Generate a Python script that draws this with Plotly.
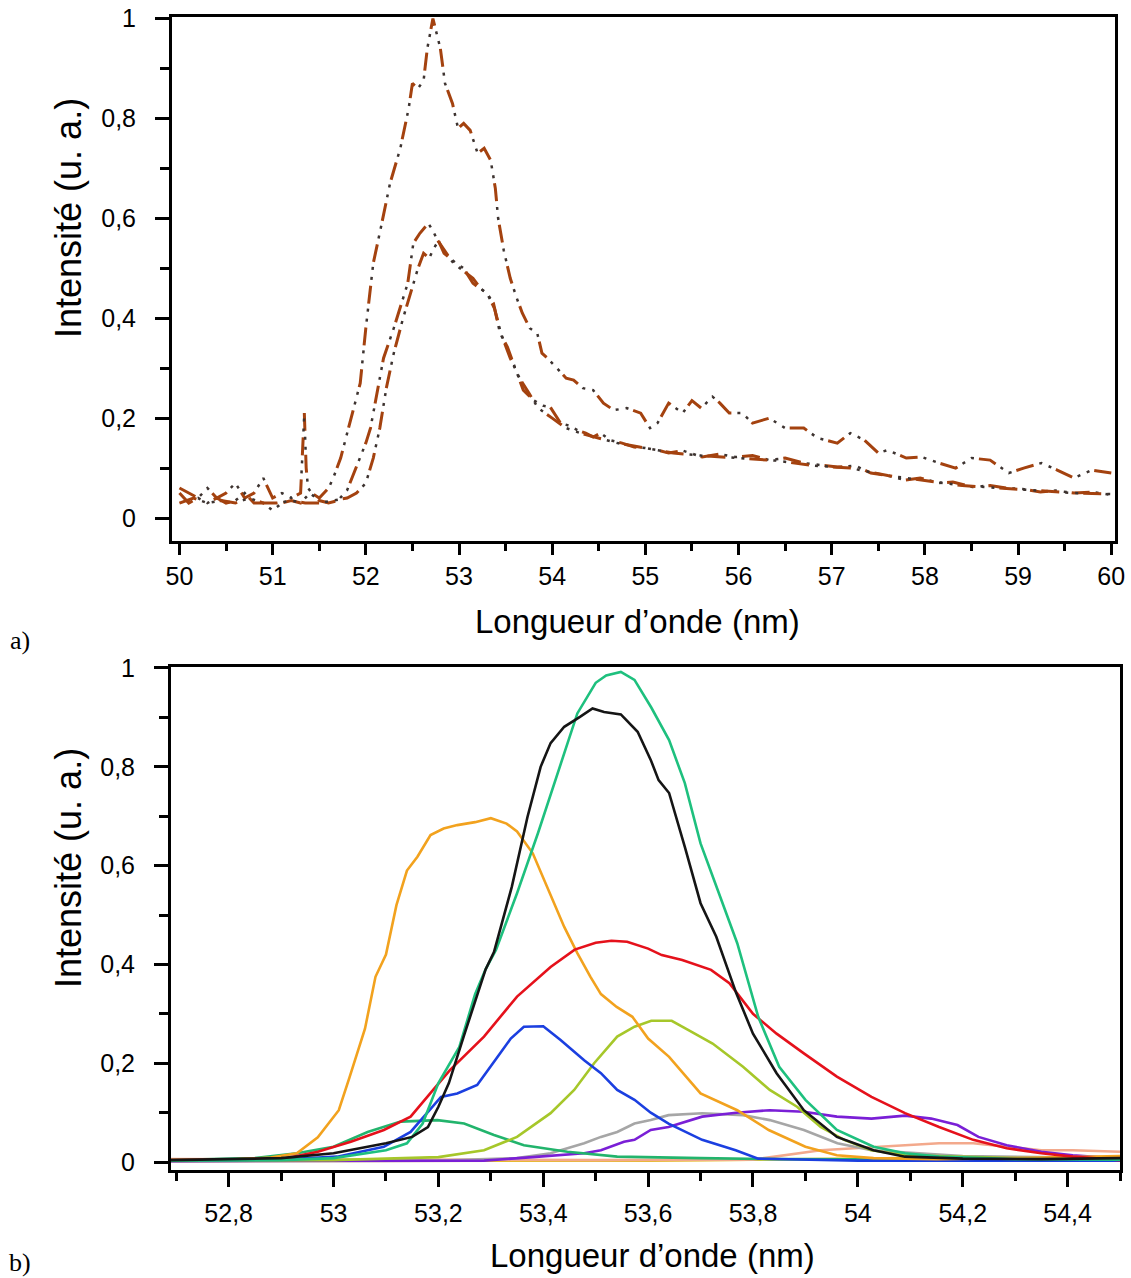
import plotly.graph_objects as go

W, H = 1131, 1278

# ---------------- Panel a) data ----------------
a_upper_x = [50.0, 50.1, 50.2, 50.3, 50.4, 50.5, 50.6, 50.7, 50.8, 50.9, 51.0, 51.1, 51.2, 51.3, 51.34, 51.36, 51.38, 51.42, 51.5, 51.6, 51.65, 51.73, 51.83, 51.9, 51.94, 52.0, 52.08, 52.16, 52.26, 52.37, 52.46, 52.5, 52.56, 52.62, 52.66, 52.72, 52.76, 52.8, 52.85, 52.93, 52.99, 53.05, 53.12, 53.2, 53.27, 53.34, 53.39, 53.42, 53.48, 53.55, 53.62, 53.68, 53.76, 53.84, 53.89, 53.95, 54.05, 54.15, 54.23, 54.33, 54.44, 54.55, 54.66, 54.8, 54.95, 55.05, 55.13, 55.25, 55.4, 55.5, 55.6, 55.72, 55.8, 55.9, 56.04, 56.15, 56.33, 56.5, 56.7, 56.85, 57.06, 57.2, 57.35, 57.5, 57.6, 57.8, 57.97, 58.15, 58.33, 58.5, 58.7, 58.9, 59.06, 59.25, 59.42, 59.6, 59.79, 60.0]
a_upper_y = [0.06, 0.05, 0.04, 0.06, 0.04, 0.05, 0.07, 0.04, 0.05, 0.08, 0.04, 0.05, 0.04, 0.05, 0.21, 0.10, 0.06, 0.05, 0.04, 0.06, 0.08, 0.12, 0.19, 0.24, 0.27, 0.38, 0.51, 0.58, 0.67, 0.74, 0.82, 0.87, 0.86, 0.876, 0.94, 1.0, 0.97, 0.94, 0.87, 0.83, 0.78, 0.79, 0.776, 0.73, 0.74, 0.716, 0.66, 0.60, 0.536, 0.48, 0.44, 0.41, 0.38, 0.37, 0.33, 0.32, 0.30, 0.28, 0.276, 0.26, 0.256, 0.23, 0.216, 0.22, 0.21, 0.18, 0.19, 0.23, 0.21, 0.235, 0.22, 0.243, 0.23, 0.21, 0.21, 0.19, 0.20, 0.18, 0.18, 0.16, 0.15, 0.17, 0.156, 0.13, 0.136, 0.12, 0.122, 0.11, 0.10, 0.12, 0.116, 0.09, 0.10, 0.11, 0.096, 0.08, 0.096, 0.09]

a_mid_x = [50.0, 50.1, 50.2, 50.3, 50.4, 50.5, 50.6, 50.7, 50.8, 50.9, 51.0, 51.1, 51.2, 51.3, 51.4, 51.5, 51.6, 51.7, 51.8, 51.87, 51.94, 52.0, 52.05, 52.12, 52.19, 52.3, 52.37, 52.45, 52.51, 52.58, 52.67, 52.72, 52.77, 52.87, 52.94, 53.01, 53.08, 53.15, 53.23, 53.3, 53.37, 53.44, 53.52, 53.62, 53.69, 53.8, 53.9, 53.98, 54.09, 54.18, 54.27, 54.36, 54.44, 54.52, 54.62, 54.75, 54.88, 55.0, 55.13, 55.25, 55.4, 55.61, 55.8, 55.97, 56.15, 56.33, 56.5, 56.7, 56.9, 57.06, 57.25, 57.42, 57.6, 57.79, 57.95, 58.15, 58.3, 58.51, 58.7, 58.87, 59.05, 59.24, 59.4, 59.6, 59.8, 60.0]
a_mid_y = [0.05, 0.03, 0.04, 0.03, 0.04, 0.03, 0.035, 0.05, 0.03, 0.03, 0.015, 0.03, 0.035, 0.03, 0.05, 0.035, 0.03, 0.035, 0.056, 0.09, 0.12, 0.15, 0.18, 0.25, 0.32, 0.38, 0.42, 0.47, 0.55, 0.57, 0.59, 0.575, 0.556, 0.53, 0.51, 0.50, 0.49, 0.48, 0.46, 0.45, 0.43, 0.37, 0.342, 0.29, 0.256, 0.236, 0.225, 0.222, 0.19, 0.185, 0.176, 0.17, 0.162, 0.17, 0.156, 0.15, 0.142, 0.14, 0.136, 0.13, 0.135, 0.122, 0.128, 0.122, 0.125, 0.116, 0.12, 0.11, 0.105, 0.102, 0.105, 0.09, 0.085, 0.076, 0.08, 0.07, 0.072, 0.062, 0.065, 0.06, 0.058, 0.052, 0.055, 0.05, 0.052, 0.046]

a_low_x = [50.0, 50.15, 50.3, 50.45, 50.6, 50.75, 50.9, 51.05, 51.2, 51.35, 51.5, 51.65, 51.8, 51.9, 52.0, 52.08, 52.15, 52.22, 52.3, 52.4, 52.48, 52.56, 52.62, 52.68, 52.73, 52.78, 52.84, 52.9, 52.97, 53.05, 53.15, 53.22, 53.3, 53.38, 53.45, 53.55, 53.65, 53.75, 53.85, 54.0, 54.15, 54.3, 54.5, 54.7, 55.0, 55.3, 55.6, 56.0, 56.4, 56.8, 57.2, 57.6, 58.0, 58.4, 58.8, 59.2, 59.6, 60.0]
a_low_y = [0.03, 0.04, 0.03, 0.035, 0.03, 0.04, 0.03, 0.03, 0.035, 0.03, 0.03, 0.035, 0.04, 0.05, 0.07, 0.12, 0.18, 0.26, 0.33, 0.40, 0.45, 0.50, 0.53, 0.52, 0.54, 0.555, 0.53, 0.52, 0.51, 0.50, 0.47, 0.46, 0.45, 0.42, 0.37, 0.32, 0.28, 0.25, 0.22, 0.20, 0.18, 0.17, 0.16, 0.15, 0.14, 0.13, 0.125, 0.12, 0.115, 0.105, 0.10, 0.085, 0.075, 0.065, 0.06, 0.055, 0.05, 0.048]

a_xticks = [50, 51, 52, 53, 54, 55, 56, 57, 58, 59, 60]
a_yticks = [0, 0.2, 0.4, 0.6, 0.8, 1]

# ---------------- Panel b) data ----------------
b_orange_x = [52.69, 52.8, 52.88, 52.93, 52.97, 53.01, 53.03, 53.06, 53.08, 53.1, 53.12, 53.14, 53.16, 53.185, 53.21, 53.236, 53.27, 53.3, 53.33, 53.35, 53.38, 53.41, 53.44, 53.465, 53.49, 53.51, 53.54, 53.57, 53.6, 53.64, 53.7, 53.77, 53.83, 53.9, 53.96, 54.03, 54.15, 54.3, 54.5]
b_orange_y = [0.004, 0.005, 0.009, 0.018, 0.05, 0.105, 0.17, 0.27, 0.375, 0.42, 0.52, 0.59, 0.618, 0.662, 0.675, 0.682, 0.688, 0.696, 0.685, 0.669, 0.625, 0.55, 0.476, 0.423, 0.375, 0.34, 0.314, 0.294, 0.25, 0.213, 0.139, 0.105, 0.065, 0.031, 0.014, 0.008, 0.006, 0.008, 0.012]

b_green_x = [52.69, 52.9, 53.0, 53.1, 53.14, 53.17, 53.2, 53.24, 53.27, 53.29, 53.31, 53.35, 53.39, 53.43, 53.465, 53.5, 53.52, 53.548, 53.574, 53.606, 53.64, 53.67, 53.7, 53.735, 53.77, 53.81, 53.85, 53.9, 53.96, 54.03, 54.09, 54.155, 54.3, 54.5]
b_green_y = [0.003, 0.004, 0.008, 0.024, 0.038, 0.078, 0.16, 0.233, 0.34, 0.39, 0.43, 0.544, 0.666, 0.794, 0.908, 0.97, 0.985, 0.992, 0.976, 0.92, 0.854, 0.767, 0.645, 0.544, 0.443, 0.294, 0.193, 0.126, 0.065, 0.031, 0.018, 0.011, 0.006, 0.005]

b_black_x = [52.69, 52.9, 53.0, 53.1, 53.15, 53.18, 53.2, 53.22, 53.25, 53.29, 53.306, 53.34, 53.37, 53.395, 53.414, 53.44, 53.47, 53.494, 53.516, 53.548, 53.58, 53.605, 53.62, 53.64, 53.67, 53.7, 53.73, 53.768, 53.8, 53.845, 53.897, 53.96, 54.03, 54.09, 54.2, 54.35, 54.5]
b_black_y = [0.004, 0.008, 0.018, 0.038, 0.051, 0.071, 0.112, 0.16, 0.26, 0.39, 0.425, 0.557, 0.699, 0.8, 0.848, 0.881, 0.901, 0.918, 0.911, 0.906, 0.871, 0.814, 0.773, 0.747, 0.638, 0.524, 0.456, 0.342, 0.26, 0.18, 0.105, 0.051, 0.024, 0.011, 0.007, 0.006, 0.008]

b_red_x = [52.69, 52.8, 52.906, 52.97, 53.033, 53.096, 53.147, 53.19, 53.222, 53.287, 53.35, 53.414, 53.46, 53.5, 53.53, 53.56, 53.6, 53.626, 53.665, 53.72, 53.755, 53.8, 53.845, 53.897, 53.96, 54.026, 54.09, 54.155, 54.22, 54.284, 54.35, 54.41, 54.5]
b_red_y = [0.004, 0.005, 0.007, 0.021, 0.041, 0.065, 0.092, 0.146, 0.186, 0.254, 0.335, 0.395, 0.43, 0.444, 0.448, 0.446, 0.432, 0.419, 0.409, 0.389, 0.362, 0.3, 0.26, 0.22, 0.173, 0.132, 0.099, 0.071, 0.045, 0.028, 0.018, 0.011, 0.004]

b_blue_x = [52.69, 52.9, 53.007, 53.096, 53.147, 53.173, 53.205, 53.236, 53.274, 53.313, 53.338, 53.363, 53.4, 53.433, 53.478, 53.51, 53.541, 53.574, 53.605, 53.639, 53.703, 53.767, 53.81, 54.0, 54.5]
b_blue_y = [0.003, 0.005, 0.011, 0.031, 0.061, 0.092, 0.132, 0.139, 0.156, 0.213, 0.25, 0.274, 0.275, 0.247, 0.206, 0.18, 0.146, 0.126, 0.1, 0.078, 0.045, 0.024, 0.007, 0.003, 0.003]

b_lime_x = [52.69, 53.0, 53.2, 53.287, 53.35, 53.414, 53.459, 53.497, 53.541, 53.574, 53.606, 53.645, 53.677, 53.723, 53.781, 53.832, 53.884, 53.929, 53.974, 54.026, 54.09, 54.3, 54.5]
b_lime_y = [0.003, 0.004, 0.01, 0.024, 0.051, 0.099, 0.146, 0.2, 0.254, 0.274, 0.286, 0.286, 0.267, 0.24, 0.193, 0.146, 0.112, 0.071, 0.045, 0.024, 0.014, 0.008, 0.006]

b_green2_x = [52.69, 52.85, 52.93, 53.0, 53.065, 53.128, 53.198, 53.249, 53.306, 53.363, 53.446, 53.541, 53.7, 53.85, 54.1, 54.5]
b_green2_y = [0.004, 0.008, 0.018, 0.031, 0.061, 0.082, 0.085, 0.078, 0.055, 0.034, 0.021, 0.011, 0.008, 0.006, 0.005, 0.005]

b_grey_x = [52.69, 53.2, 53.35, 53.414, 53.478, 53.51, 53.541, 53.574, 53.605, 53.639, 53.703, 53.781, 53.832, 53.897, 53.961, 54.026, 54.2, 54.5]
b_grey_y = [0.002, 0.003, 0.008, 0.018, 0.038, 0.051, 0.061, 0.078, 0.085, 0.095, 0.099, 0.095, 0.085, 0.065, 0.038, 0.024, 0.012, 0.008]

b_purple_x = [52.69, 53.1, 53.287, 53.38, 53.478, 53.51, 53.554, 53.574, 53.605, 53.639, 53.703, 53.768, 53.832, 53.897, 53.96, 54.026, 54.09, 54.14, 54.19, 54.23, 54.284, 54.35, 54.41, 54.5]
b_purple_y = [0.002, 0.002, 0.003, 0.01, 0.018, 0.024, 0.041, 0.045, 0.065, 0.071, 0.092, 0.1, 0.105, 0.102, 0.092, 0.088, 0.094, 0.088, 0.075, 0.051, 0.034, 0.021, 0.014, 0.007]

b_salmon_x = [52.69, 53.5, 53.8, 53.864, 53.929, 53.993, 54.09, 54.155, 54.22, 54.284, 54.35, 54.41, 54.5]
b_salmon_y = [0.006, 0.004, 0.005, 0.014, 0.024, 0.028, 0.034, 0.038, 0.038, 0.031, 0.024, 0.024, 0.021]

b_yellow_x = [52.69, 53.6, 53.8, 53.95, 54.1, 54.25, 54.4, 54.5]
b_yellow_y = [0.002, 0.003, 0.005, 0.006, 0.008, 0.007, 0.009, 0.01]

b_yticks = [0, 0.2, 0.4, 0.6, 0.8, 1]

# ---------------- styles ----------------
FONT = "Arial, Liberation Sans, sans-serif"
BROWN = "#A4420F"
DOTS = "#3d3330"

fig = go.Figure()

for xs, ys in [(a_upper_x, a_upper_y), (a_mid_x, a_mid_y), (a_low_x, a_low_y)]:
    fig.add_trace(go.Scatter(x=xs, y=ys, mode="lines", xaxis="x", yaxis="y",
                             line=dict(color=BROWN, width=3, dash="18px,24px"),
                             showlegend=False, hoverinfo="skip"))
    fig.add_trace(go.Scatter(x=xs, y=ys, mode="lines", xaxis="x", yaxis="y",
                             line=dict(color=DOTS, width=2.5, dash="0px,24px,3px,7px,3px,5px"),
                             showlegend=False, hoverinfo="skip"))

b_series = [
    (b_yellow_x, b_yellow_y, "#E3C00E"),
    (b_salmon_x, b_salmon_y, "#F3A98C"),
    (b_grey_x, b_grey_y, "#A6A6A6"),
    (b_purple_x, b_purple_y, "#7A1FD6"),
    (b_green2_x, b_green2_y, "#22B46C"),
    (b_lime_x, b_lime_y, "#A6C72A"),
    (b_blue_x, b_blue_y, "#1B3FE0"),
    (b_orange_x, b_orange_y, "#F2A21E"),
    (b_red_x, b_red_y, "#E5111B"),
    (b_green_x, b_green_y, "#1EC07E"),
    (b_black_x, b_black_y, "#151515"),
]
for xs, ys, col in b_series:
    fig.add_trace(go.Scatter(x=xs, y=ys, mode="lines", xaxis="x2", yaxis="y2",
                             line=dict(color=col, width=2.6), showlegend=False,
                             hoverinfo="skip"))

def px_x(p):
    return p / W

def px_y(p):
    return 1 - p / H

# plot areas (pixels)
A_L, A_R, A_T, A_B = 172, 1115, 17, 541
B_L, B_R, B_T, B_B = 171, 1120, 667, 1170

axis_common = dict(showline=True, linewidth=3, linecolor="black", mirror=True,
                   showgrid=False, zeroline=False, ticks="outside", tickwidth=2.5,
                   automargin=False,
                   tickcolor="black", tickfont=dict(family=FONT, size=25, color="black"))

fig.update_layout(
    width=W, height=H,
    margin=dict(l=0, r=0, t=0, b=0, pad=0),
    paper_bgcolor="white", plot_bgcolor="white",
    separators=", ",
    font=dict(family=FONT, color="black"),
    xaxis=dict(domain=[px_x(A_L), px_x(A_R)], range=[49.92, 60.04], anchor="y",
               tickmode="array", tickvals=a_xticks, ticklen=11, ticklabelstandoff=0,
               minor=dict(ticks="outside", ticklen=7, tickwidth=2.5, tickcolor="black",
                          dtick=0.5, tick0=50),
               **axis_common),
    yaxis=dict(domain=[px_y(A_B), px_y(A_T)], range=[-0.046, 1.003], anchor="x",
               tickmode="array", tickvals=a_yticks, ticklen=14, ticklabelstandoff=14,
               minor=dict(ticks="outside", ticklen=9, tickwidth=2.5, tickcolor="black",
                          dtick=0.1, tick0=0),
               **axis_common),
    xaxis2=dict(domain=[px_x(B_L), px_x(B_R)], range=[52.69, 54.5], anchor="y2",
                tickmode="linear", tick0=52.8, dtick=0.2, ticklen=14, ticklabelstandoff=5,
                minor=dict(ticks="outside", ticklen=8, tickwidth=2.5, tickcolor="black",
                           dtick=0.1, tick0=52.7),
                **axis_common),
    yaxis2=dict(domain=[px_y(B_B), px_y(B_T)], range=[-0.016, 1.002], anchor="x2",
                tickmode="array", tickvals=b_yticks, ticklen=14, ticklabelstandoff=14,
                minor=dict(ticks="outside", ticklen=9, tickwidth=2.5, tickcolor="black",
                           dtick=0.1, tick0=0),
                **axis_common),
)

title_font = dict(family=FONT, size=33, color="black")
ytitle_font = dict(family=FONT, size=36, color="black")
serif = dict(family="Times New Roman, Liberation Serif, serif", size=26, color="black")

annots = [
    dict(text="Longueur d’onde (nm)", x=px_x(637), y=px_y(621), font=title_font),
    dict(text="Longueur d’onde (nm)", x=px_x(652), y=px_y(1255), font=title_font),
    dict(text="Intensité (u. a.)", x=px_x(68), y=px_y(218), font=ytitle_font, textangle=-90),
    dict(text="Intensité (u. a.)", x=px_x(68), y=px_y(868), font=ytitle_font, textangle=-90),
    dict(text="a)", x=px_x(20), y=px_y(640), font=serif),
    dict(text="b)", x=px_x(20), y=px_y(1262), font=serif),
]
for a in annots:
    fig.add_annotation(xref="paper", yref="paper", showarrow=False,
                       xanchor="center", yanchor="middle", **a)

fig.write_html("out.html", config={"displayModeBar": False},
               post_script="document.body.style.margin='0px';document.body.style.padding='0px';")
